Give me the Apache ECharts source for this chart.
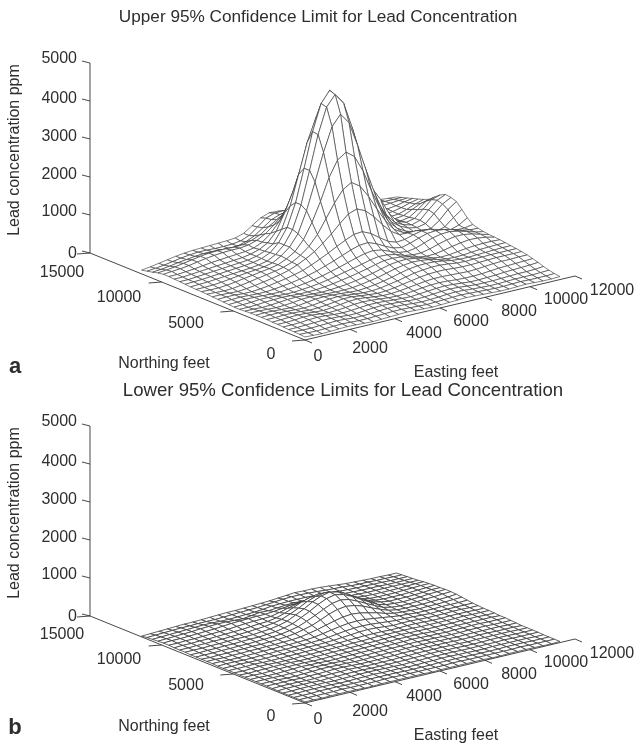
<!DOCTYPE html>
<html><head><meta charset="utf-8">
<style>html,body{margin:0;padding:0;background:#fff}#c{width:635px;height:745px}</style>
<script src="https://cdn.jsdelivr.net/npm/echarts@6/dist/echarts.min.js"></script>
</head><body><div id="c"></div>
<script>
const eastingTicks=[0,2000,4000,6000,8000,10000,12000];
const northingTicks=[0,5000,10000,15000];
const leadTicks=[0,1000,2000,3000,4000,5000];
const meshEastingStep=11330/30, meshNorthingStep=11400/30;
// Lead ppm, rows run south to north, columns west to east
const upperLimit=[
[80,70,60,70,80,90,80,70,60,70,80,90,100,90,80,70,80,90,100,110,100,90,80,70,70,80,90,80,70,70,80],
[90,80,70,80,90,100,90,80,80,90,100,110,110,100,90,80,90,100,110,120,110,100,90,80,80,90,100,90,90,90,100],
[100,90,90,100,110,120,110,90,90,100,120,130,130,120,100,90,100,110,130,140,130,110,100,90,90,100,110,110,110,120,130],
[100,100,110,120,130,130,120,100,100,120,140,150,140,130,110,100,110,130,150,160,150,130,110,110,110,120,130,140,140,150,170],
[110,110,120,140,150,140,120,110,120,140,160,160,150,130,120,110,130,150,170,180,170,150,130,130,140,150,170,180,190,200,220],
[120,120,130,150,150,130,110,120,140,170,180,170,150,130,120,130,150,180,200,210,200,180,170,170,180,200,220,230,240,250,260],
[120,130,140,150,140,120,110,130,160,190,200,180,150,130,130,150,180,210,240,260,260,250,240,230,240,260,280,290,290,300,300],
[130,130,140,140,130,110,120,140,170,200,200,170,150,130,140,170,210,250,290,320,330,330,310,300,300,310,320,330,330,330,330],
[130,140,140,130,120,110,130,160,190,200,180,160,140,140,160,200,240,290,340,370,390,390,370,340,330,340,340,350,350,350,350],
[130,140,130,120,110,120,150,180,190,180,170,150,140,160,190,230,280,340,390,420,430,420,390,350,330,330,340,350,360,370,370],
[130,130,120,110,120,140,170,180,170,160,150,150,160,190,230,270,330,390,430,460,450,420,370,330,320,330,350,370,380,390,390],
[120,120,110,120,140,160,170,160,150,140,150,170,190,230,270,320,380,440,470,480,450,400,350,320,330,360,390,410,420,420,410],
[110,110,120,140,150,160,150,140,140,150,170,200,240,280,330,380,440,490,500,480,430,370,340,350,390,440,480,510,500,470,420],
[110,120,130,150,150,140,130,130,150,170,200,240,290,340,390,440,500,540,530,490,410,370,370,420,490,550,590,590,550,490,430],
[120,130,150,150,140,130,130,150,170,200,240,290,350,410,480,550,610,640,600,510,430,400,440,520,600,650,660,620,560,490,450],
[130,140,150,140,130,130,150,180,210,250,300,360,440,520,610,700,770,790,710,590,490,450,510,590,660,680,660,600,530,490,480],
[140,150,150,130,130,150,180,220,260,310,370,460,560,670,790,900,1000,1020,920,760,610,530,550,620,670,660,600,530,480,480,520],
[150,150,140,130,150,180,220,260,310,370,460,570,700,870,1060,1280,1480,1560,1460,1250,990,760,620,610,620,590,510,440,430,500,640],
[160,150,140,150,180,220,260,300,340,390,470,600,780,1040,1400,1760,2060,2200,2050,1730,1340,980,700,570,500,440,390,380,450,640,800],
[170,160,160,180,210,250,280,320,350,400,500,640,900,1300,1800,2370,2780,2940,2770,2340,1760,1250,850,620,490,420,380,400,560,790,950],
[170,170,180,200,230,260,290,310,340,390,520,700,1000,1550,2250,2980,3600,3880,3600,2960,2250,1600,1050,720,560,460,420,470,680,880,1000],
[180,190,200,220,240,260,280,300,330,380,500,700,1050,1650,2500,3390,4060,4340,4060,3370,2540,1770,1250,860,610,490,430,500,720,920,1020],
[190,200,210,230,250,270,290,310,340,390,490,700,1050,1650,2500,3410,4100,4390,4150,3420,2650,1950,1550,1200,780,520,440,490,680,880,950],
[200,200,220,240,260,280,300,320,340,390,470,610,940,1500,2280,3070,3650,3930,3650,3060,2330,1700,1290,980,660,470,420,460,610,780,840],
[210,210,230,250,270,290,310,330,350,390,460,580,830,1270,1790,2420,2860,3090,2860,2400,1790,1280,950,680,480,420,420,450,560,660,720],
[220,220,240,260,290,320,340,360,380,400,440,540,720,980,1360,1730,2040,2150,2030,1680,1300,920,700,530,430,400,410,430,500,590,660],
[220,240,260,290,330,370,400,420,430,430,460,530,650,830,1030,1230,1390,1450,1320,1120,880,680,530,450,420,410,420,440,490,560,610],
[200,220,250,290,330,370,400,410,410,400,410,470,560,720,860,1000,1040,1020,850,740,600,500,430,410,420,430,440,450,480,530,570],
[160,180,210,250,280,310,330,330,320,310,320,380,480,640,800,880,920,860,700,600,490,440,420,430,440,460,460,470,490,510,520],
[130,150,180,220,260,290,310,310,300,300,310,340,430,600,780,860,870,790,640,520,440,400,410,430,440,460,480,480,480,480,480],
[100,130,170,210,250,280,300,310,320,330,340,360,430,580,730,810,800,700,560,450,400,390,400,410,430,440,450,470,470,450,435]
];
const lowerLimit=[
[30,30,20,30,30,30,30,20,20,30,30,30,30,30,30,20,30,30,30,30,30,30,20,20,30,30,30,30,20,20,30],
[30,30,30,30,30,40,30,30,30,30,40,40,30,30,30,30,30,30,40,40,30,30,30,30,30,30,40,30,30,30,30],
[30,30,30,40,40,40,30,30,30,40,40,40,40,30,30,30,30,40,40,40,40,30,30,30,30,40,40,40,30,30,30],
[30,30,40,40,40,40,30,30,40,40,50,40,40,40,30,30,40,40,50,50,40,40,30,30,40,40,40,40,40,30,30],
[30,30,40,40,40,40,30,40,40,50,50,50,40,40,30,40,40,50,50,50,50,40,40,40,40,40,50,40,40,40,40],
[30,40,40,40,40,30,40,40,50,50,50,40,40,40,40,40,50,50,60,60,50,50,40,40,40,50,50,50,40,40,40],
[30,40,40,40,30,30,40,50,50,60,50,40,40,40,40,50,50,60,60,60,60,50,50,40,50,50,50,50,50,40,40],
[40,40,40,40,30,40,40,50,60,60,50,40,40,40,50,50,60,60,70,70,60,60,50,50,50,60,60,50,50,50,40],
[40,40,40,30,30,40,50,60,60,50,50,40,40,50,50,60,60,70,70,70,70,60,60,50,60,60,60,60,60,50,50],
[40,40,40,30,40,40,50,60,50,50,40,40,50,50,60,60,70,70,80,80,70,70,60,60,60,70,70,70,60,60,60],
[40,40,30,30,40,50,60,50,50,40,40,50,50,60,60,70,70,80,80,90,80,70,70,60,70,70,80,80,70,70,70],
[40,40,30,40,50,50,50,50,40,40,50,50,60,60,70,70,80,80,90,90,90,80,70,70,70,80,80,80,80,80,70],
[40,30,40,40,50,50,50,40,40,50,50,60,60,70,70,80,80,90,90,100,90,90,80,80,80,80,90,90,90,80,80],
[40,30,40,50,50,40,40,40,50,50,60,60,70,70,80,80,90,100,100,100,100,100,90,90,90,90,90,100,90,90,90],
[40,40,40,50,40,40,40,50,50,60,60,70,70,80,90,100,110,110,110,100,100,110,110,100,90,90,100,100,100,90,90],
[40,40,50,40,40,40,50,50,60,60,70,70,80,90,110,130,150,160,150,130,110,120,120,110,100,100,100,110,110,100,100],
[40,50,50,40,40,50,50,60,60,70,70,80,90,110,140,170,190,200,190,170,150,130,130,120,110,100,110,110,110,110,110],
[50,50,40,40,50,50,60,60,70,70,80,90,110,150,190,230,260,270,260,230,200,170,140,130,110,110,110,120,120,120,130],
[50,50,40,50,50,60,60,70,70,80,90,110,150,200,260,320,370,390,370,320,270,200,150,130,120,110,120,120,130,140,150],
[50,40,50,50,60,60,70,70,80,90,110,140,190,250,340,440,510,540,510,440,340,250,170,130,120,120,120,130,140,150,170],
[50,50,50,60,60,70,70,80,90,100,120,160,210,300,400,510,610,650,610,510,400,290,190,140,120,120,130,140,150,170,180],
[50,50,60,60,70,70,80,90,90,110,130,170,230,340,450,580,680,730,680,580,450,330,210,150,130,120,130,140,160,170,180],
[60,60,60,70,70,80,90,90,100,120,140,180,240,350,460,590,690,740,690,590,460,340,220,160,130,130,130,140,150,170,170],
[60,60,70,70,80,80,90,100,110,130,150,180,230,320,420,540,620,660,620,530,410,300,200,150,130,130,130,140,150,160,170],
[60,70,70,80,80,90,100,110,120,140,160,170,210,280,370,470,540,580,540,460,360,250,180,140,130,130,130,140,150,160,160],
[70,70,80,80,90,100,110,120,140,160,170,180,190,240,300,350,400,430,400,340,270,200,160,140,130,130,130,130,140,150,150],
[70,80,80,90,100,110,120,140,160,170,180,190,190,210,240,270,290,300,280,240,200,170,150,140,130,130,130,130,130,130,130],
[60,70,80,90,100,120,130,140,140,130,120,150,180,170,190,210,220,210,190,180,170,160,150,140,130,130,130,120,120,120,120],
[50,60,70,80,90,100,110,110,100,100,110,120,130,150,180,190,200,200,200,190,180,170,150,140,130,130,120,120,110,110,110],
[40,50,60,70,80,80,90,90,90,100,110,120,130,140,160,180,200,210,210,200,190,170,160,150,130,120,120,110,110,100,100],
[20,30,40,50,60,70,70,80,90,100,110,110,120,130,140,150,170,190,210,200,200,190,170,150,130,120,110,100,100,90,90]
];
[upperLimit,lowerLimit].forEach((t,p)=>t.forEach((r,j)=>{if(r.length!==31)throw new Error('row '+p+' '+j+' '+r.length)}));

const FONT='"Liberation Sans",Arial,sans-serif', INK='#2e2e2e';
const panels=[{dy:0,table:upperLimit,lw:0.65},{dy:363,table:lowerLimit,lw:0.8}];
function project(E,N,z,dy){return [305+E/12000*270-N/15000*215, 340+dy-E/12000*64-N/15000*87-z*190/5000];}

const meshData=[];
panels.forEach((pn,p)=>{
  for(let i=29;i>=0;i--)for(let j=29;j>=0;j--)meshData.push([p,i,j]);
});
function meshItem(params,api){
  const p=api.value(0),i=api.value(1),j=api.value(2),pn=panels[p],t=pn.table;
  const c=[[i,j],[i+1,j],[i+1,j+1],[i,j+1]].map(([a,b])=>api.coord(project(a*meshEastingStep,b*meshNorthingStep,t[b][a],pn.dy)));
  return {type:'polygon',shape:{points:c},style:{fill:'#fff',stroke:'#3c3c3c',lineWidth:pn.lw}};
}
const axisSegs=[];
panels.forEach(pn=>{
  const d=pn.dy;
  axisSegs.push([...project(0,15000,5000,d),...project(0,15000,0,d)]);
  axisSegs.push([...project(0,15000,0,d),...project(0,0,0,d)]);
  axisSegs.push([...project(0,0,0,d),...project(12000,0,0,d)]);
  leadTicks.forEach(v=>{const a=project(0,15000,v,d);axisSegs.push([a[0],a[1],a[0]-8,a[1]-2]);});
  northingTicks.forEach(v=>{const a=project(0,v,0,d);axisSegs.push([a[0],a[1],a[0]-13,a[1]+1]);});
  eastingTicks.forEach(v=>{const a=project(v,0,0,d);axisSegs.push([a[0],a[1],a[0]+7,a[1]+3]);});
});
function segItem(params,api){
  const a=api.coord([api.value(0),api.value(1)]),b=api.coord([api.value(2),api.value(3)]);
  return {type:'line',shape:{x1:a[0],y1:a[1],x2:b[0],y2:b[1]},style:{stroke:'#333',lineWidth:0.9}};
}
const texts=[];
function T(s,x,y,o){texts.push(Object.assign({s,x,y,size:16,align:'center',rot:0,w:'normal'},o||{}));}
const eastOff=[[13,17],[20,19],[29,15],[31,14],[34,14],[36,13],[37,15]];
const northPos=[[271,355],[186,324],[119,298],[62,273]];
const leadY=[254,212,175,137,99,59];
panels.forEach(pn=>{
  const d=pn.dy;
  eastingTicks.forEach((v,k)=>{const a=project(v,0,0,d);T(String(v),a[0]+eastOff[k][0],a[1]+eastOff[k][1]);});
  northingTicks.forEach((v,k)=>{T(String(v),northPos[k][0],northPos[k][1]+d-(d?1:0));});
  leadTicks.forEach((v,k)=>{T(String(v),77,leadY[k]+d,{align:'right'});});
  T('Lead concentration ppm',15,150+d,{rot:Math.PI/2});
  T('Northing feet',164,364+d);
  T('Easting feet',456,373+d);
});
T('Upper 95% Confidence Limit for Lead Concentration',318,17,{size:17.2});
T('Lower 95% Confidence Limits for Lead Concentration',343,391,{size:18.6});
T('a',15,367,{size:22,w:'bold'});
T('b',15,728,{size:22,w:'bold'});
function textItem(params,api){
  const t=texts[params.dataIndex],c=api.coord([t.x,t.y]);
  return {type:'text',x:c[0],y:c[1],rotation:t.rot,style:{text:t.s,fill:INK,font:t.w+' '+t.size+'px '+FONT,textAlign:t.align,textVerticalAlign:'middle'}};
}
const chart=echarts.init(document.getElementById('c'),null,{renderer:'canvas'});
chart.setOption({
  animation:false,backgroundColor:'#fff',
  grid:{left:0,right:0,top:0,bottom:0},
  xAxis:{type:'value',min:0,max:635,show:false},
  yAxis:{type:'value',min:0,max:745,inverse:true,show:false},
  series:[
    {type:'custom',renderItem:segItem,data:axisSegs,silent:true,clip:false,encode:{x:0,y:1}},
    {type:'custom',renderItem:meshItem,data:meshData,silent:true,clip:false,progressive:0,encode:{x:1,y:2}},
    {type:'custom',renderItem:textItem,data:texts.map((t,k)=>[t.x,t.y,k]),silent:true,clip:false,encode:{x:0,y:1}}
  ]
});
</script></body></html>
